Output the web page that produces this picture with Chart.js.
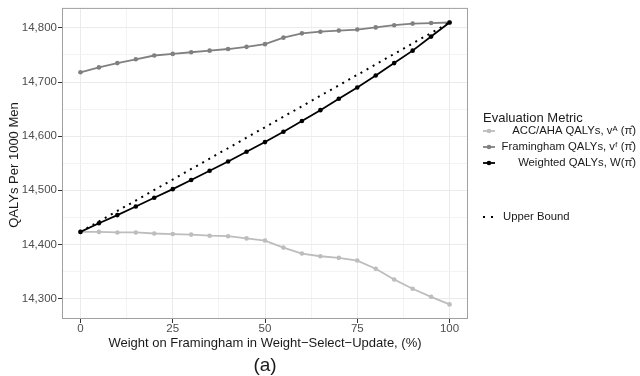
<!DOCTYPE html>
<html lang="en">
<head>
  <meta charset="UTF-8" />
  <title>QALYs vs Framingham weight</title>
  <script src="https://cdn.jsdelivr.net/npm/chart.js"></script>
  <style>
    html, body { margin: 0; padding: 0; background: #ffffff; }
    #wrap { position: relative; width: 640px; height: 376px; }
  </style>
</head>
<body>
  <div id="wrap"><canvas id="qalyChart" width="640" height="376"></canvas></div>

  <script>
    // values
    const weights = [0, 5, 10, 15, 20, 25, 30, 35, 40, 45, 50, 55, 60, 65, 70, 75, 80, 85, 90, 95, 100];
    const accAha = [14423, 14423, 14422, 14422, 14420, 14419, 14418, 14416, 14415, 14411, 14407,
                    14394, 14383, 14378, 14375, 14370, 14355, 14335, 14318, 14303, 14289];
    const framingham = [14718, 14727, 14735, 14742, 14749, 14752, 14755, 14758, 14761, 14765, 14770,
                        14782, 14790, 14793, 14795, 14797, 14801, 14805, 14808, 14809, 14810];
    const weighted = [14423, 14439, 14454, 14470, 14486, 14502, 14519, 14536, 14553, 14571, 14589,
                      14608, 14628, 14648, 14669, 14690, 14712, 14735, 14758, 14784, 14810];
    const boundX = [0, 100];
    const boundY = [14423, 14810];

    const xTicks = [0, 12.5, 25, 37.5, 50, 62.5, 75, 87.5, 100];
    const yTicks = [14300, 14350, 14400, 14450, 14500, 14550, 14600, 14650, 14700, 14750, 14800];

    const legendItems = [
      { label: 'ACC/AHA QALYs, v\u1D2C (\u03C0\u0302)', color: '#bdbdbd' },
      { label: 'Framingham QALYs, v\u1DA0 (\u03C0\u0302)', color: '#808080' },
      { label: 'Weighted QALYs, W(\u03C0\u0302)', color: '#000000' }
    ];

    const FONT = '"Liberation Sans", Arial, Helvetica, sans-serif';
    const pts = (ys) => ys.map((y, i) => ({ x: weights[i], y: y }));

    // panel box, axis titles, caption and legend (ggplot style)
    Chart.register({
      id: 'ggExtras',
      afterDraw(chart) {
        const ctx = chart.ctx;
        const a = chart.chartArea;
        ctx.save();
        ctx.strokeStyle = '#a0a0a0';
        ctx.lineWidth = 1;
        ctx.strokeRect(a.left + 0.5, a.top + 0.5, a.right - a.left - 1, a.bottom - a.top - 1);

        ctx.fillStyle = '#1a1a1a';
        ctx.font = '13px ' + FONT;
        ctx.textAlign = 'center';
        ctx.textBaseline = 'middle';
        ctx.fillText('Weight on Framingham in Weight\u2212Select\u2212Update, (%)', (a.left + a.right) / 2, 343);
        ctx.font = '19px ' + FONT;
        ctx.fillText('(a)', (a.left + a.right) / 2, 366);

        ctx.save();
        ctx.translate(14, 165);
        ctx.rotate(-Math.PI / 2);
        ctx.font = '13px ' + FONT;
        ctx.fillText('QALYs Per 1000 Men', 0, 0);
        ctx.restore();

        // legend
        ctx.textAlign = 'left';
        ctx.font = '13px ' + FONT;
        ctx.fillText('Evaluation Metric', 483, 118);
        ctx.font = '11.3px ' + FONT;
        legendItems.forEach((it, i) => {
          const y = 131 + i * 16;
          ctx.strokeStyle = it.color;
          ctx.fillStyle = it.color;
          ctx.lineWidth = 1.8;
          ctx.beginPath();
          ctx.moveTo(483, y);
          ctx.lineTo(495, y);
          ctx.stroke();
          ctx.beginPath();
          ctx.arc(489, y, 2.3, 0, Math.PI * 2);
          ctx.fill();
          ctx.fillStyle = '#1a1a1a';
          ctx.textAlign = 'right';
          ctx.fillText(it.label, 636, y);
        });
        ctx.fillStyle = '#000000';
        ctx.fillRect(483, 216, 2, 2);
        ctx.fillRect(491, 216, 2, 2);
        ctx.fillStyle = '#1a1a1a';
        ctx.textAlign = 'left';
        ctx.fillText('Upper Bound', 503, 217);
        ctx.restore();
      }
    });

    const isMajorX = (v) => v % 25 === 0;
    const isMajorY = (v) => v % 100 === 0;

    const lineStyle = (color) => ({
      borderColor: color,
      backgroundColor: color,
      borderWidth: 1.8,
      pointRadius: 2.3,
      pointBorderWidth: 0
    });

    new Chart(document.getElementById('qalyChart'), {
      type: 'line',
      data: {
        datasets: [
          {
            label: 'Upper Bound',
            data: boundX.map((x, i) => ({ x: x, y: boundY[i] })),
            borderColor: '#000000',
            borderWidth: 2,
            borderDash: [2, 5],
            pointRadius: 0,
            order: 2
          },
          Object.assign({ label: 'ACC/AHA', data: pts(accAha), order: 3 }, lineStyle('#bdbdbd')),
          Object.assign({ label: 'Framingham', data: pts(framingham), order: 4 }, lineStyle('#808080')),
          Object.assign({ label: 'Weighted', data: pts(weighted), order: 1 }, lineStyle('#000000'))
        ]
      },
      options: {
        responsive: false,
        animation: false,
        layout: { padding: { left: 0, right: 172, top: 6, bottom: 0 } },
        plugins: { legend: { display: false }, tooltip: { enabled: false } },
        scales: {
          x: {
            type: 'linear',
            min: -5,
            max: 105,
            afterBuildTicks: (s) => { s.ticks = xTicks.map(v => ({ value: v })); },
            afterFit: (s) => { s.height = 57; },
            border: { display: false },
            grid: {
              color: (c) => isMajorX(c.tick.value) ? '#ebebeb' : '#f3f3f3',
              tickColor: (c) => isMajorX(c.tick.value) ? '#333333' : 'rgba(0,0,0,0)',
              tickLength: 4
            },
            ticks: {
              padding: 0,
              color: '#4d4d4d',
              font: { family: FONT, size: 11.5, lineHeight: 1 },
              maxRotation: 0,
              autoSkip: false,
              callback: (v) => isMajorX(v) ? String(v) : ''
            }
          },
          y: {
            type: 'linear',
            min: 14262,
            max: 14837,
            afterBuildTicks: (s) => { s.ticks = yTicks.map(v => ({ value: v })); },
            afterFit: (s) => { s.width = 62; },
            border: { display: false },
            grid: {
              color: (c) => isMajorY(c.tick.value) ? '#ebebeb' : '#f3f3f3',
              tickColor: (c) => isMajorY(c.tick.value) ? '#333333' : 'rgba(0,0,0,0)',
              tickLength: 4
            },
            ticks: {
              padding: 1,
              color: '#4d4d4d',
              font: { family: FONT, size: 11.5 },
              autoSkip: false,
              callback: (v) => isMajorY(v) ? v.toLocaleString('en-US') : ''
            }
          }
        }
      }
    });
  </script>
</body>
</html>
